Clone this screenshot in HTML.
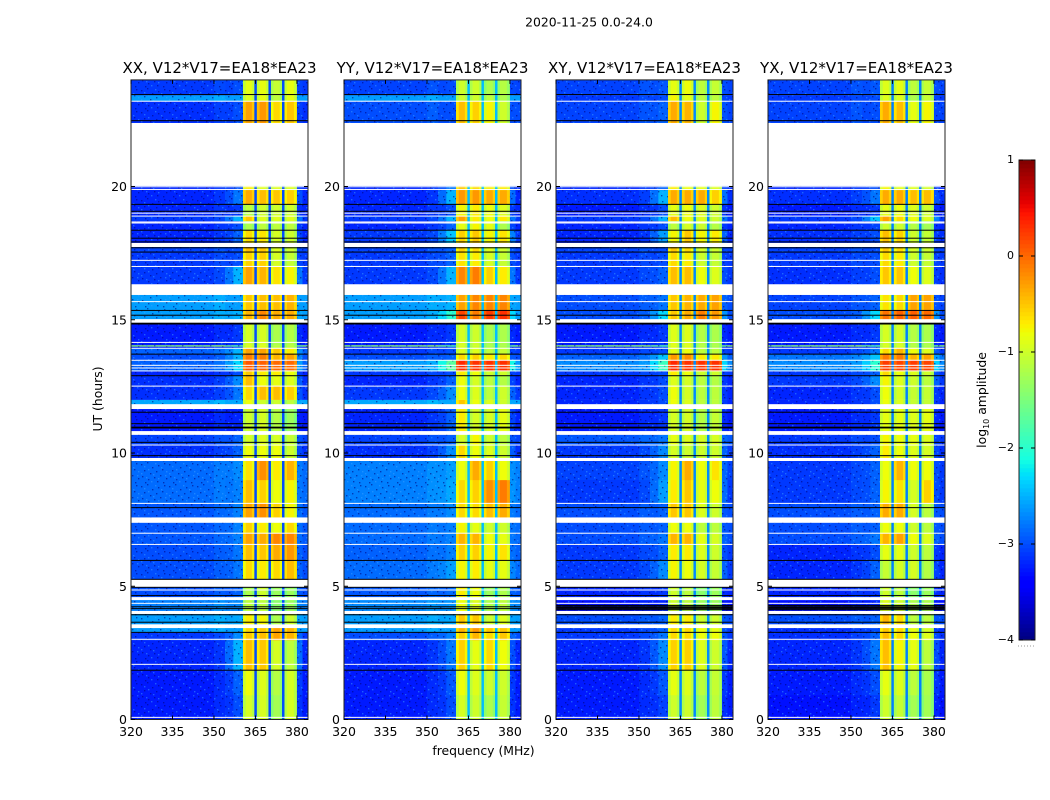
<!DOCTYPE html>
<html>
<head>
<meta charset="utf-8">
<title>2020-11-25 0.0-24.0</title>
<style>
html,body{margin:0;padding:0;background:#fff;width:1050px;height:800px;overflow:hidden}
svg{display:block}
text{font-family:"DejaVu Sans","Liberation Sans",sans-serif;fill:#000}
</style>
</head>
<body>
<svg id="figure" width="1050" height="800" viewBox="0 0 1050 800" xmlns="http://www.w3.org/2000/svg">
<defs>
<pattern id="speckle" patternUnits="userSpaceOnUse" width="28" height="22">
<g fill="#00007a" opacity="0.55">
<rect x="1" y="2" width="1.4" height="1.4"/><rect x="7" y="0" width="1.4" height="1.4"/><rect x="12" y="5" width="1.4" height="1.4"/>
<rect x="18" y="3" width="1.4" height="1.4"/><rect x="24" y="1" width="1.4" height="1.4"/><rect x="4" y="8" width="1.4" height="1.4"/>
<rect x="10" y="11" width="1.4" height="1.4"/><rect x="16" y="9" width="1.4" height="1.4"/><rect x="22" y="7" width="1.4" height="1.4"/>
<rect x="2" y="14" width="1.4" height="1.4"/><rect x="8" y="17" width="1.4" height="1.4"/><rect x="14" y="15" width="1.4" height="1.4"/>
<rect x="20" y="13" width="1.4" height="1.4"/><rect x="26" y="16" width="1.4" height="1.4"/><rect x="5" y="20" width="1.4" height="1.4"/>
<rect x="17" y="19" width="1.4" height="1.4"/><rect x="23" y="20" width="1.4" height="1.4"/>
</g>
<g fill="#3aa0ff" opacity="0.5">
<rect x="4" y="4" width="1.4" height="1.4"/><rect x="15" y="1" width="1.4" height="1.4"/><rect x="21" y="5" width="1.4" height="1.4"/>
<rect x="8" y="7" width="1.4" height="1.4"/><rect x="26" y="9" width="1.4" height="1.4"/><rect x="13" y="12" width="1.4" height="1.4"/>
<rect x="1" y="11" width="1.4" height="1.4"/><rect x="18" y="16" width="1.4" height="1.4"/><rect x="6" y="15" width="1.4" height="1.4"/>
<rect x="11" y="19" width="1.4" height="1.4"/><rect x="25" y="13" width="1.4" height="1.4"/>
</g>
</pattern>
</defs>
<rect width="1050" height="800" fill="#fff"/>
<text x="589" y="26.5" font-size="12.4" text-anchor="middle">2020-11-25 0.0-24.0</text>
<text x="483.5" y="755" font-size="12.4" text-anchor="middle">frequency (MHz)</text>
<text x="0" y="0" font-size="12.4" text-anchor="middle" transform="translate(102,399) rotate(-90)">UT (hours)</text>
<text x="0" y="0" font-size="12.4" text-anchor="middle" transform="translate(986,400) rotate(-90)">log<tspan font-size="8" dy="3">10</tspan><tspan dy="-3"> amplitude</tspan></text>
</svg>
<script>
// ---------- chart data ----------
const panelTitles = ["XX, V12*V17=EA18*EA23","YY, V12*V17=EA18*EA23","XY, V12*V17=EA18*EA23","YX, V12*V17=EA18*EA23"];
const xTickValues = [320,335,350,365,380];
const yTickValues = [0,5,10,15,20];
const colorbarTickValues = [1,0,-1,-2,-3,-4];
const freqEdges = [320,350,354,357,360.5,361.5,363.7,364.6,365.5,366.5,368.8,369.7,370.6,371.5,373.8,374.6,375.5,376.4,378.9,380,382,384];
const columnSources = ["bg","bg","mix","edge","s1","s1","s1","notch","s2","s2","s2","notch","s3","s3","s3","notch","s4","s4","s4","mix","bg"];
const columnOffsets = [0,0.08,0,0,-0.2,0,-0.2,0,-0.2,0,-0.2,0,-0.2,0,-0.2,0,-0.2,0,-0.2,0,0];
const notchLevels = [-3.0,-2.45,-2.7,-2.75];
const hourEdges = [0,0.92,1.86,2.98,3.28,3.43,3.58,3.96,4.08,4.48,4.6,4.96,5.26,5.98,6.58,7.0,7.38,7.59,8.12,8.99,9.7,9.82,10.3,10.68,10.83,11.65,11.84,12.0,12.51,12.93,13.08,13.49,13.71,13.94,14.0,14.05,14.88,15.03,15.37,15.93,16.34,17.02,17.54,17.73,17.89,18.37,18.71,18.89,19.34,19.87,20.02,22.39,23.21,23.43,24];
const whiteLineHours = [0.08,2.07,3.01,4.36,4.86,6.57,6.99,8.11,10.3,12.51,13.08,13.19,13.29,13.48,13.93,14.15,15.68,17.0,17.23,18.63,18.67,18.89,19.0,19.89,19.99,23.2];
const blackLineHours = [1.85,3.27,3.65,3.93,4.16,4.23,4.65,4.96,5.26,5.97,7.95,9.9,10.4,10.94,10.97,11.1,11.53,12.9,13.71,14.84,14.87,15.17,15.35,17.54,17.7,17.92,18.06,18.36,19.07,19.33,22.47,23.45];
const extraBlackHours = [[],[],[4.12,4.2,4.28],[4.12,4.2,4.28]];
// each row: [background, band edge, spw1, spw2, spw3, spw4] in log10 amplitude; null = flagged
const levelsXX = [
[-3.25,-3.0,-0.95,-0.95,-1.25,-0.95],[-3.25,-2.9,-0.8,-0.9,-1.15,-0.95],[-3.2,-2.5,-0.45,-0.5,-0.95,-1.1],[-3.1,-2.7,-0.5,-0.45,-0.3,-0.4],[-2.6,-2.6,-0.6,-0.5,-0.3,-0.4],null,
[-2.6,-2.55,-0.7,-0.75,-1.2,-1.0],null,[-2.75,-2.7,-1.1,-1.1,-1.4,-1.3],null,[-3.0,-2.9,-1.2,-1.0,-1.3,-1.3],null,
[-3.0,-2.8,-0.6,-0.7,-0.6,-0.45],[-3.0,-2.8,-0.45,-0.5,-0.35,-0.25],[-2.95,-2.75,-0.3,-0.35,-0.15,-0.15],[-2.95,-2.75,-0.55,-0.7,-0.8,-0.6],null,
[-2.95,-2.75,-0.3,-0.2,-0.55,-0.75],[-2.85,-2.75,-0.45,-0.55,-0.8,-0.75],[-2.85,-2.7,-0.65,-0.2,-0.7,-0.4],null,
[-3.15,-2.9,-0.8,-0.8,-0.8,-1.0],[-3.05,-2.9,-0.95,-0.9,-0.95,-1.05],null,[-3.25,-3.2,-1.0,-0.95,-1.15,-1.3],null,
[-2.55,-2.55,-0.8,-1.0,-1.0,-1.1],[-3.15,-2.8,-0.6,-0.45,-0.45,-0.55],[-3.15,-2.7,-0.45,-0.8,-0.85,-0.9],[-3.2,-3.0,-0.5,-0.7,-0.7,-0.8],
[-2.9,-2.3,0.1,0.05,0.0,0.0],[-3.0,-2.5,-0.1,-0.1,-0.4,-0.3],[-2.9,-2.5,-0.3,-0.3,-0.5,-0.7],[-3.2,-3.0,-0.9,-0.9,-1.1,-1.1],[-1.4,-1.7,-0.9,-0.9,-1.1,-1.1],[-3.25,-3.1,-0.95,-0.95,-1.2,-1.15],null,
[-2.6,-2.5,-0.4,-0.15,-0.35,-0.35],[-2.6,-2.6,-0.5,-0.45,-0.45,-0.4],null,
[-3.1,-2.5,-0.3,-0.4,-0.65,-0.75],[-3.1,-3.0,-0.55,-0.55,-0.95,-1.05],[-3.05,-3.0,-0.45,-0.5,-0.9,-1.0],null,
[-3.2,-2.9,-0.6,-0.65,-0.95,-1.0],[-3.2,-3.0,-1.2,-1.1,-1.1,-1.1],[-3.1,-2.5,-0.5,-0.9,-0.9,-0.9],[-3.2,-3.1,-1.1,-1.0,-1.0,-1.0],[-3.2,-2.8,-0.35,-0.45,-0.5,-0.55],[-3.2,-3.0,-0.7,-0.9,-0.9,-0.9],null,
[-3.15,-3.0,-0.3,-0.25,-0.6,-0.5],[-2.6,-2.6,-0.9,-0.85,-1.1,-0.85],[-3.1,-3.0,-0.85,-0.85,-1.05,-0.85]];
const levelsYY = [
[-3.25,-3.0,-0.95,-1.0,-1.2,-1.05],[-3.25,-2.95,-0.8,-0.9,-1.0,-1.0],[-3.2,-2.8,-0.55,-0.85,-0.6,-0.8],[-3.0,-2.75,-0.55,-0.4,-0.6,-0.5],[-2.6,-2.6,-0.4,-0.25,-0.5,-0.5],null,
[-2.6,-2.55,-0.5,-0.5,-1.0,-0.9],null,[-2.7,-2.65,-0.8,-0.9,-1.2,-1.1],null,[-2.95,-2.85,-0.7,-0.8,-1.3,-1.2],null,
[-2.85,-2.6,-0.75,-0.7,-0.85,-0.85],[-2.9,-2.75,-0.55,-0.55,-0.75,-0.65],[-2.85,-2.75,-0.4,-0.4,-0.8,-0.85],[-2.85,-2.75,-0.75,-0.85,-1.0,-1.0],null,
[-2.85,-2.7,-0.6,-0.6,-0.45,-0.35],[-2.75,-2.55,-0.6,-0.55,-0.2,-0.1],[-2.75,-2.6,-0.8,-0.35,-0.55,-0.8],null,
[-3.15,-2.7,-0.6,-0.8,-0.9,-1.0],[-3.05,-2.9,-0.95,-0.75,-1.0,-1.1],null,[-3.2,-2.9,-0.7,-0.95,-0.95,-0.85],null,
[-2.55,-2.55,-0.5,-0.8,-0.9,-1.0],[-3.1,-2.7,-0.8,-0.9,-1.1,-1.0],[-3.2,-2.9,-0.8,-0.95,-1.1,-1.15],[-3.1,-3.0,-0.7,-0.8,-1.0,-1.0],
[-2.6,-1.7,0.35,0.3,0.3,0.3],[-3.0,-2.9,-0.6,-0.55,-0.7,-0.6],[-3.1,-3.0,-0.9,-0.9,-1.1,-1.05],[-3.2,-3.0,-0.95,-1.0,-1.2,-1.2],[-1.4,-1.7,-0.95,-1.0,-1.2,-1.2],[-3.25,-3.1,-0.95,-1.0,-1.2,-1.2],null,
[-2.6,-2.0,0.2,-0.1,0.25,0.3],[-2.6,-2.5,-0.3,-0.15,-0.15,-0.15],null,
[-3.1,-2.5,-0.15,-0.1,-0.55,-0.7],[-3.1,-2.9,-0.65,-0.7,-0.95,-1.05],[-3.05,-2.9,-0.55,-0.6,-0.9,-1.0],null,
[-3.1,-2.4,-0.55,-0.5,-0.75,-0.65],[-3.2,-2.9,-0.85,-0.75,-0.85,-1.2],[-3.1,-2.5,-0.3,-0.7,-0.8,-0.7],[-3.2,-3.0,-0.75,-0.7,-0.8,-0.9],[-3.2,-2.5,-0.25,-0.25,-0.35,-0.35],[-3.2,-2.8,-0.5,-0.6,-0.7,-0.7],null,
[-3.0,-3.0,-0.45,-0.55,-0.75,-1.0],[-2.6,-2.6,-1.0,-1.0,-1.1,-1.2],[-3.05,-3.0,-1.0,-1.0,-1.2,-1.15]];
const levelsXY = [
[-3.25,-3.05,-1.0,-1.0,-1.25,-1.1],[-3.25,-2.95,-0.85,-0.9,-1.1,-1.05],[-3.2,-2.7,-0.55,-0.55,-0.9,-1.0],[-3.1,-2.8,-0.6,-0.6,-0.8,-0.8],[-3.1,-2.9,-0.6,-0.6,-0.8,-0.85],null,
[-3.0,-2.9,-0.7,-0.7,-1.0,-1.0],null,[-3.3,-3.2,-1.0,-1.1,-1.3,-1.3],null,[-3.2,-3.1,-1.0,-1.1,-1.4,-1.3],null,
[-3.1,-2.7,-0.75,-0.8,-0.95,-1.05],[-3.1,-2.9,-0.7,-0.7,-0.9,-1.0],[-3.0,-2.8,-0.4,-0.4,-0.85,-0.95],[-3.0,-2.9,-0.8,-0.8,-1.1,-1.1],null,
[-3.0,-2.9,-0.5,-0.5,-0.9,-1.0],[-3.1,-2.6,-0.7,-0.5,-0.85,-0.8],[-3.05,-2.7,-0.75,-0.35,-0.8,-0.65],null,
[-3.1,-2.7,-0.95,-1.0,-1.0,-1.0],[-2.95,-2.8,-0.85,-0.9,-0.95,-0.95],null,[-3.25,-3.1,-0.95,-0.95,-1.15,-1.05],null,
[-3.2,-3.0,-0.8,-0.9,-1.1,-1.1],[-3.2,-3.0,-0.8,-0.95,-1.1,-1.1],[-3.2,-3.0,-0.9,-0.95,-1.1,-1.15],[-3.1,-3.0,-0.7,-0.8,-1.0,-1.0],
[-2.7,-1.9,0.35,0.3,0.3,0.3],[-2.9,-2.4,-0.25,-0.2,-0.7,-0.7],[-3.1,-3.0,-0.85,-0.8,-1.1,-1.1],[-3.2,-3.0,-0.9,-0.9,-1.15,-1.2],[-1.4,-1.7,-0.9,-0.9,-1.15,-1.2],[-3.25,-3.1,-0.9,-0.9,-1.15,-1.2],null,
[-3.0,-2.3,-0.5,-0.35,-0.1,-0.25],[-3.0,-2.8,-0.5,-0.4,-0.35,-0.3],null,
[-3.1,-2.9,-0.45,-0.45,-0.8,-0.9],[-3.1,-3.0,-0.6,-0.7,-1.0,-1.05],[-3.05,-3.0,-0.5,-0.6,-0.95,-1.0],null,
[-3.2,-2.6,-0.75,-0.5,-0.75,-0.7],[-3.2,-3.0,-1.1,-0.95,-1.0,-1.15],[-3.1,-2.5,-0.45,-0.8,-0.9,-1.0],[-3.25,-3.0,-0.85,-0.8,-0.9,-1.0],[-3.15,-2.5,-0.35,-0.35,-0.35,-0.55],[-3.2,-2.9,-0.7,-0.8,-0.85,-0.9],null,
[-3.05,-2.9,-0.35,-0.4,-1.0,-0.75],[-3.1,-3.0,-0.75,-0.85,-1.1,-1.1],[-3.05,-2.95,-0.85,-0.8,-1.1,-1.05]];
const levelsYX = [
[-3.3,-3.1,-1.0,-1.05,-1.25,-1.25],[-3.25,-3.0,-0.85,-0.9,-1.1,-1.2],[-3.2,-2.8,-0.45,-0.75,-0.85,-1.1],[-3.15,-2.9,-0.45,-0.6,-0.8,-0.9],[-3.15,-3.0,-0.5,-0.6,-0.85,-0.95],null,
[-3.0,-2.9,-0.4,-0.6,-1.1,-1.1],null,[-3.3,-3.2,-0.9,-1.0,-1.2,-1.2],null,[-3.2,-3.1,-1.0,-1.1,-1.4,-1.3],null,
[-3.2,-2.9,-1.05,-0.95,-0.95,-1.15],[-3.2,-3.0,-0.85,-0.85,-1.0,-1.1],[-3.0,-2.8,-0.4,-0.3,-0.8,-0.9],[-3.0,-2.9,-0.8,-0.8,-1.0,-1.1],null,
[-3.0,-2.9,-0.35,-0.35,-0.95,-1.1],[-3.1,-2.9,-0.75,-0.65,-0.95,-0.55],[-3.1,-2.9,-0.8,-0.4,-0.8,-0.8],null,
[-3.15,-2.9,-0.7,-0.8,-0.9,-0.95],[-3.1,-3.0,-0.75,-0.8,-0.85,-0.9],null,[-3.25,-3.1,-0.85,-0.85,-0.9,-0.85],null,
[-3.2,-3.0,-0.8,-0.9,-1.05,-1.05],[-3.2,-3.0,-0.8,-0.95,-1.05,-1.05],[-3.1,-2.7,-0.75,-0.9,-1.0,-1.1],[-3.1,-2.9,-0.6,-0.8,-0.9,-1.0],
[-2.7,-2.0,0.25,0.2,0.25,0.2],[-2.8,-2.4,-0.1,-0.1,-0.4,-0.3],[-3.1,-2.8,-0.6,-0.4,-0.8,-0.9],[-3.2,-3.0,-0.95,-0.95,-1.15,-1.2],[-1.4,-1.7,-0.95,-0.95,-1.15,-1.2],[-3.25,-3.1,-0.95,-0.95,-1.15,-1.2],null,
[-3.0,-2.3,-0.05,0.05,0.05,0.0],[-3.05,-2.9,-0.65,-0.6,-0.3,-0.3],null,
[-3.15,-3.0,-0.5,-0.5,-0.8,-0.9],[-3.1,-3.0,-0.6,-0.7,-1.0,-1.05],[-3.05,-3.0,-0.5,-0.6,-0.95,-1.0],null,
[-3.15,-3.0,-0.45,-0.55,-1.0,-1.05],[-3.2,-3.05,-1.0,-1.0,-1.15,-1.25],[-3.1,-2.4,-0.3,-0.6,-0.8,-0.9],[-3.25,-3.1,-0.85,-0.8,-0.9,-1.0],[-3.15,-2.8,-0.35,-0.35,-0.45,-0.45],[-3.2,-3.0,-0.75,-0.85,-0.9,-0.95],null,
[-3.05,-3.0,-0.35,-0.45,-0.85,-0.75],[-3.1,-3.0,-0.9,-0.9,-1.2,-1.05],[-3.05,-2.95,-0.9,-0.85,-1.1,-1.05]];
const panelLevels = [levelsXX,levelsYY,levelsXY,levelsYX];

// ---------- layout ----------
const panelLeft = [131,344,556,768];
const panelWidth = 177;
const plotBottom = 719.5;
const pxPerHour = 26.65;
const svgNS = "http://www.w3.org/2000/svg";
const fig = document.getElementById("figure");

function el(tag, attrs, parent){
  const e = document.createElementNS(svgNS, tag);
  for (const k in attrs) e.setAttribute(k, attrs[k]);
  (parent || fig).appendChild(e);
  return e;
}
function xScale(p, f){ return panelLeft[p] + (f - 320) / (384 - 320) * panelWidth; }
function yScale(h){ return plotBottom - h * pxPerHour; }
function ramp(x, pts){
  for (let i = 1; i < pts.length; i++){
    if (x <= pts[i][0]){
      const a = pts[i-1], b = pts[i];
      return a[1] + (b[1] - a[1]) * (x - a[0]) / (b[0] - a[0]);
    }
  }
  return pts[pts.length-1][1];
}
function jet(v){
  const x = Math.max(0, Math.min(1, (v + 4) / 5));
  const r = ramp(x, [[0,0],[0.35,0],[0.66,1],[0.89,1],[1,0.5]]);
  const g = ramp(x, [[0,0],[0.125,0],[0.375,1],[0.64,1],[0.91,0],[1,0]]);
  const b = ramp(x, [[0,0.5],[0.11,1],[0.34,1],[0.65,0],[1,0]]);
  return "rgb(" + Math.round(r*255) + "," + Math.round(g*255) + "," + Math.round(b*255) + ")";
}
function cellValue(row, c, p){
  const src = columnSources[c];
  let v;
  if (src === "bg") v = row[0];
  else if (src === "edge") v = row[1];
  else if (src === "mix") v = (row[0] + row[1]) / 2;
  else if (src === "notch") v = notchLevels[p];
  else v = row[Number(src[1]) + 1];
  return v + columnOffsets[c];
}
function tickLabel(v){ return v < 0 ? "\u2212" + Math.abs(v) : String(v); }

panelTitles.forEach(function(title, p){
  const g = el("g", {});
  
  
  const left = panelLeft[p], right = left + panelWidth;
  const top = yScale(24), bottom = yScale(0);

  const levels = panelLevels[p];
  for (let r = 0; r < hourEdges.length - 1; r++){
    const row = levels[r];
    if (!row) continue;
    const y0 = yScale(hourEdges[r+1]), y1 = yScale(hourEdges[r]);
    for (let c = 0; c < freqEdges.length - 1; c++){
      const x0 = xScale(p, freqEdges[c]), x1 = xScale(p, freqEdges[c+1]);
      const cell = el("rect", {x:x0, y:y0, width:x1-x0+0.3, height:y1-y0+0.2, fill:jet(cellValue(row, c, p))}, g);
      
      
    }
    const noiseLeft = el("rect", {x:xScale(p,320), y:y0, width:xScale(p,360.5)-xScale(p,320), height:y1-y0, fill:"url(#speckle)"}, g);
    
    
    const noiseRight = el("rect", {x:xScale(p,380), y:y0, width:xScale(p,384)-xScale(p,380), height:y1-y0, fill:"url(#speckle)"}, g);
    
    
  }
  whiteLineHours.forEach(function(h){
    const line = el("rect", {x:left, y:yScale(h)-0.5, width:panelWidth, height:1, fill:"#fff"}, g);
    
    
  });
  blackLineHours.concat(extraBlackHours[p]).forEach(function(h){
    const line = el("rect", {x:left, y:yScale(h)-0.5, width:panelWidth, height:1, fill:"#000"}, g);
    
    
  });

  const frame = el("rect", {x:left, y:top, width:panelWidth, height:bottom-top, fill:"none", stroke:"#222", "stroke-width":1}, g);
  
  

  const titleText = el("text", {x:left+panelWidth/2, y:73, "font-size":15, "text-anchor":"middle"}, g);
  titleText.textContent = title;
  
  

  xTickValues.forEach(function(f){
    const x = xScale(p, f);
    const t1 = el("line", {x1:x, x2:x, y1:bottom, y2:bottom-4, stroke:"#000"}, g);
    
    
    const t2 = el("line", {x1:x, x2:x, y1:top, y2:top+4, stroke:"#000"}, g);
    
    
    const label = el("text", {x:x, y:736, "font-size":12.5, "text-anchor":"middle"}, g);
    label.textContent = String(f);
    
    
  });
  yTickValues.forEach(function(h){
    const y = yScale(h);
    const t1 = el("line", {x1:left, x2:left+4, y1:y, y2:y, stroke:"#000"}, g);
    
    
    const t2 = el("line", {x1:right, x2:right-4, y1:y, y2:y, stroke:"#000"}, g);
    
    
    const label = el("text", {x:left-4, y:y+4.5, "font-size":12.5, "text-anchor":"end"}, g);
    label.textContent = String(h);
    
    
  });
});

// ---------- colorbar ----------
const cbLeft = 1019, cbWidth = 16, cbTop = 160, cbBottom = 640;
function cbScale(v){ return cbBottom - (v + 4) / 5 * (cbBottom - cbTop); }
const cb = el("g", {});


for (let i = 0; i < 120; i++){
  const v0 = -4 + i * 5 / 120, v1 = -4 + (i + 1) * 5 / 120;
  const swatch = el("rect", {x:cbLeft, y:cbScale(v1), width:cbWidth, height:cbScale(v0)-cbScale(v1)+0.3, fill:jet((v0+v1)/2)}, cb);
  
  
}
const cbFrame = el("rect", {x:cbLeft, y:cbTop, width:cbWidth, height:cbBottom-cbTop, fill:"none", stroke:"#222", "stroke-width":1}, cb);


colorbarTickValues.forEach(function(v){
  const y = cbScale(v);
  const t1 = el("line", {x1:cbLeft, x2:cbLeft+4, y1:y, y2:y, stroke:"#000"}, cb);
  
  
  const t2 = el("line", {x1:cbLeft+cbWidth, x2:cbLeft+cbWidth-4, y1:y, y2:y, stroke:"#000"}, cb);
  
  
  const label = el("text", {x:cbLeft-5, y:y+3, "font-size":11, "text-anchor":"end"}, cb);
  label.textContent = tickLabel(v);
  
  
});
const cbDots = el("line", {x1:cbLeft-1, x2:cbLeft+cbWidth, y1:646, y2:646, stroke:"#999", "stroke-width":1, "stroke-dasharray":"1 2"}, cb);


</script>
</body>
</html>
